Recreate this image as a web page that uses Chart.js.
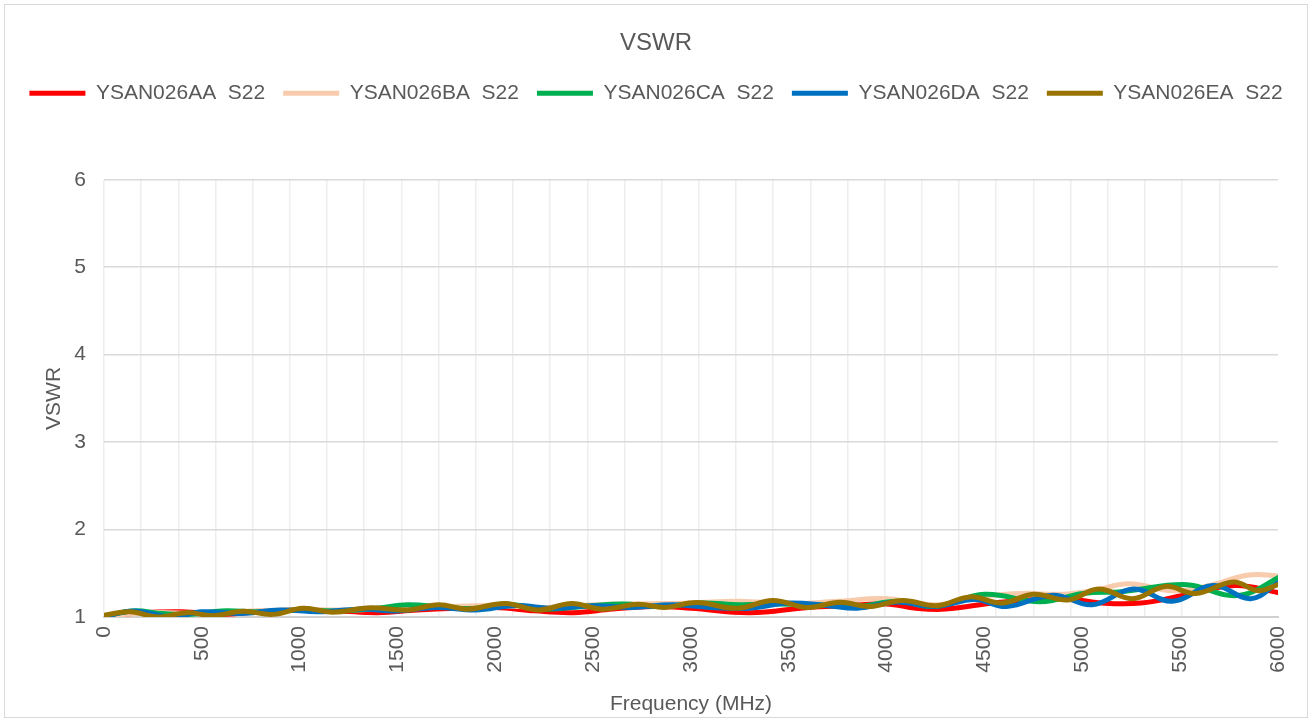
<!DOCTYPE html>
<html>
<head>
<meta charset="utf-8">
<title>VSWR</title>
<script src="https://cdn.jsdelivr.net/npm/chart.js@4.4.1/dist/chart.umd.min.js"></script>
<style>
  body { margin: 0; background: #fff; }
  #box { position: absolute; left: 4px; top: 4px; width: 1302px; height: 712px; border: 1px solid #d9d9d9; }
</style>
</head>
<body>
<div id="box"><canvas id="vswrChart"></canvas></div>
<script>
// S22 VSWR sweeps (frequency in MHz)
const freqAA = [0, 200, 400, 600, 800, 1000, 1200, 1400, 1600, 1800, 2000, 2200, 2400, 2600, 2800, 3000, 3300, 3600, 3800, 4000, 4150, 4300, 4580, 4900, 5100, 5300, 5520, 5780, 6000];
const vswrAA = [1.00, 1.05, 1.06, 1.03, 1.06, 1.08, 1.07, 1.05, 1.08, 1.10, 1.11, 1.07, 1.05, 1.09, 1.12, 1.10, 1.05, 1.11, 1.13, 1.15, 1.10, 1.09, 1.17, 1.21, 1.16, 1.16, 1.25, 1.36, 1.28];

const freqBA = [0, 250, 500, 750, 1000, 1250, 1500, 1750, 2000, 2250, 2500, 2750, 3000, 3250, 3500, 3750, 4000, 4250, 4500, 4700, 4900, 5050, 5240, 5460, 5650, 5850, 6000];
const vswrBA = [1.01, 1.05, 1.04, 1.07, 1.08, 1.08, 1.10, 1.12, 1.13, 1.11, 1.14, 1.15, 1.16, 1.18, 1.15, 1.18, 1.21, 1.14, 1.24, 1.27, 1.26, 1.30, 1.38, 1.30, 1.36, 1.48, 1.47];

const freqCA = [0, 150, 300, 450, 600, 800, 1000, 1200, 1400, 1550, 1750, 1900, 2050, 2250, 2450, 2650, 2850, 3050, 3250, 3450, 3650, 3850, 4050, 4250, 4500, 4785, 5005, 5200, 5535, 5740, 5850, 6000];
const vswrCA = [1.01, 1.07, 1.04, 1.03, 1.07, 1.06, 1.08, 1.07, 1.10, 1.14, 1.11, 1.10, 1.15, 1.09, 1.12, 1.15, 1.12, 1.16, 1.14, 1.15, 1.14, 1.12, 1.18, 1.12, 1.26, 1.175, 1.27, 1.29, 1.37, 1.25, 1.27, 1.45];

const freqDA = [0, 150, 350, 500, 700, 900, 1100, 1300, 1500, 1700, 1900, 2100, 2300, 2500, 2700, 2900, 3100, 3300, 3500, 3700, 3850, 4050, 4250, 4450, 4613, 4850, 5050, 5260, 5460, 5670, 5860, 6000];
const vswrDA = [1.00, 1.07, 1.00, 1.06, 1.04, 1.08, 1.06, 1.09, 1.07, 1.11, 1.08, 1.13, 1.10, 1.13, 1.11, 1.14, 1.11, 1.10, 1.16, 1.13, 1.10, 1.17, 1.12, 1.20, 1.12, 1.25, 1.14, 1.32, 1.18, 1.36, 1.21, 1.39];

const freqEA = [0, 133, 276, 424, 557, 710, 864, 1017, 1170, 1360, 1550, 1710, 1855, 2050, 2218, 2391, 2545, 2729, 2867, 3030, 3235, 3419, 3593, 3762, 3915, 4083, 4257, 4426, 4590, 4750, 4928, 5083, 5256, 5425, 5578, 5772, 5900, 6000];
const vswrEA = [1.02, 1.06, 1.00, 1.05, 1.015, 1.065, 1.03, 1.10, 1.055, 1.105, 1.08, 1.14, 1.09, 1.155, 1.08, 1.155, 1.09, 1.145, 1.11, 1.165, 1.10, 1.19, 1.11, 1.17, 1.12, 1.19, 1.13, 1.23, 1.16, 1.26, 1.195, 1.32, 1.21, 1.35, 1.27, 1.40, 1.30, 1.37];

const seriesNames = ["YSAN026AA  S22", "YSAN026BA  S22", "YSAN026CA  S22", "YSAN026DA  S22", "YSAN026EA  S22"];
const seriesColors = ["#ff0000", "#f8cbad", "#00b050", "#0070c0", "#997300"];
const seriesFreqs = [freqAA, freqBA, freqCA, freqDA, freqEA];
const seriesVswr = [vswrAA, vswrBA, vswrCA, vswrDA, vswrEA];

const textColor = "#595959";
const fontFamily = "'Liberation Sans', Arial, sans-serif";

// make room between legend and plot
const legendGap = {
  id: "legendGap",
  beforeInit(chart) {
    const fit = chart.legend.fit;
    chart.legend.fit = function () {
      fit.call(this);
      this.height = 115;
    };
  }
};

const datasets = seriesNames.map((name, i) => ({
  label: name,
  data: seriesFreqs[i].map((f, j) => ({ x: f, y: seriesVswr[i][j] })),
  borderColor: seriesColors[i],
  backgroundColor: seriesColors[i],
  borderWidth: 5,
  borderCapStyle: "round",
  borderJoinStyle: "round",
  pointRadius: 0,
  tension: 0.4,
  fill: false,
  order: seriesNames.length - i
}));

const ctx = document.getElementById("vswrChart").getContext("2d");
new Chart(ctx, {
  type: "line",
  data: { datasets: datasets },
  plugins: [legendGap],
  options: {
    responsive: true,
    maintainAspectRatio: false,
    animation: false,
    layout: { padding: { left: 0, right: 0, top: 10, bottom: 0 } },
    plugins: {
      title: {
        display: true,
        text: "VSWR",
        color: textColor,
        font: { family: fontFamily, size: 24, weight: "normal" },
        padding: { top: 14, bottom: 7 }
      },
      legend: {
        labels: {
          usePointStyle: true,
          pointStyle: "line",
          pointStyleWidth: 56,
          padding: 18,
          color: textColor,
          font: { family: fontFamily, size: 21 },
          sort: (a, b) => a.datasetIndex - b.datasetIndex
        }
      },
      tooltip: { enabled: false }
    },
    scales: {
      x: {
        type: "linear",
        position: "bottom",
        min: 0,
        max: 6000,
        grid: { display: false, drawTicks: false },
        border: { display: true, color: "#d0d0d0", width: 2 },
        ticks: {
          stepSize: 500,
          minRotation: 90,
          maxRotation: 90,
          padding: 9,
          color: textColor,
          font: { family: fontFamily, size: 21 },
          callback: (v) => String(v)
        },
        title: {
          display: true,
          text: "Frequency (MHz)",
          color: textColor,
          font: { family: fontFamily, size: 21 },
          padding: { top: 10, bottom: 0 }
        },
        afterFit: (s) => {
          s.height = 100;
          s.paddingLeft = 0;
          s.paddingRight = 29;
        }
      },
      xGrid: {
        type: "linear",
        position: "top",
        min: 0,
        max: 6000,
        grid: {
          drawTicks: false,
          lineWidth: 1.5,
          color: (c) => (c.tick && c.tick.value % 190 === 0 ? "#eeeeee" : "rgba(0,0,0,0)")
        },
        border: { display: false },
        ticks: { stepSize: 190, display: false },
        afterFit: (s) => {
          s.height = 0;
          s.paddingLeft = 0;
          s.paddingRight = 0;
        }
      },
      y: {
        min: 1,
        max: 6,
        grid: { color: "#d9d9d9", lineWidth: 1.5, drawTicks: false },
        border: { display: false },
        ticks: {
          stepSize: 1,
          padding: 18,
          color: textColor,
          font: { family: fontFamily, size: 21 }
        },
        title: {
          display: true,
          text: "VSWR",
          color: textColor,
          font: { family: fontFamily, size: 21 },
          padding: { top: 37, bottom: 7 }
        },
        afterFit: (s) => {
          s.width = 99;
        }
      }
    }
  }
});
</script>
</body>
</html>
